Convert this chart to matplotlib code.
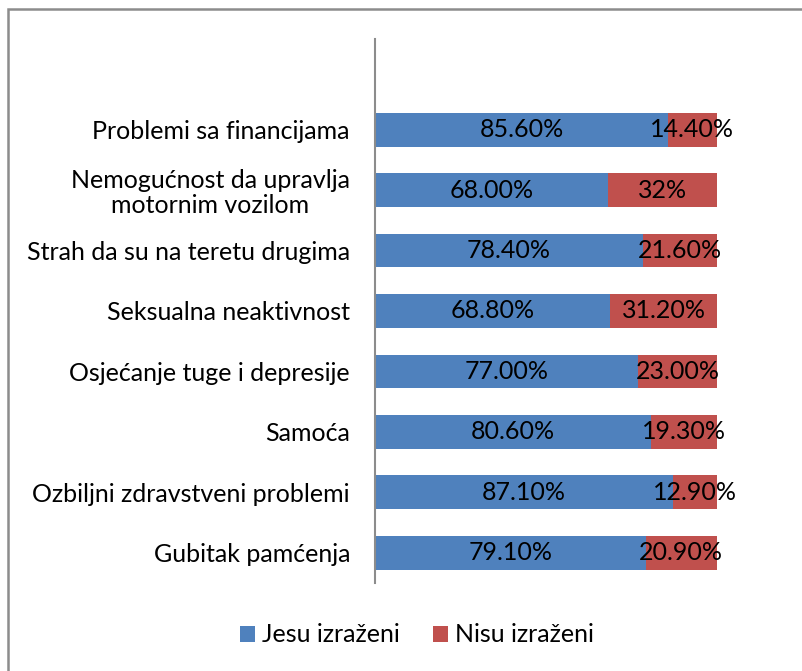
import matplotlib.pyplot as plt
from matplotlib.patches import Rectangle

plt.rcParams['font.family'] = ['Lato', 'DejaVu Sans']

# bottom to top, as drawn
categories = ["Gubitak pamćenja", "Ozbiljni zdravstveni problemi", "Samoća",
              "Osjećanje tuge i depresije", "Seksualna neaktivnost",
              "Strah da su na teretu drugima", "Nemogućnost da upravlja\nmotornim vozilom",
              "Problemi sa financijama"]
jesu = [79.1, 87.1, 80.6, 77.0, 68.8, 78.4, 68.0, 85.6]
nisu = [20.9, 12.9, 19.3, 23.0, 31.2, 21.6, 32.0, 14.4]
jesu_labels = ["79.10%", "87.10%", "80.60%", "77.00%", "68.80%", "78.40%", "68.00%", "85.60%"]
nisu_labels = ["20.90%", "12.90%", "19.30%", "23.00%", "31.20%", "21.60%", "32%", "14.40%"]

blue = "#4F81BD"
red = "#C0504D"
fs = 18

W, H = 802, 671
fig = plt.figure(figsize=(W / 100, H / 100), dpi=100)
ax = fig.add_axes([375 / W, 1 - 583 / H, (717 - 375) / W, (583 - 39) / H])

y = list(range(len(categories)))
b1 = ax.barh(y, jesu, height=0.56, color=blue, label="Jesu izraženi")
b2 = ax.barh(y, nisu, left=jesu, height=0.56, color=red, label="Nisu izraženi")

for i in y:
    ax.text(jesu[i] / 2, i, jesu_labels[i], ha='center', va='center', fontsize=fs, color='black')
    ax.text(jesu[i] + nisu[i] / 2, i, nisu_labels[i], ha='center', va='center', fontsize=fs,
            color='black', clip_on=False)

ax.set_xlim(0, 100)
ax.set_ylim(-0.5, 8.5)
ax.set_yticks(y)
ax.set_yticklabels(categories, fontsize=fs, linespacing=1.1)
for lbl in ax.get_yticklabels():
    lbl.set_multialignment('center')
ax.tick_params(axis='y', length=0, pad=18)
ax.set_xticks([])
for s in ['top', 'right', 'bottom']:
    ax.spines[s].set_visible(False)
ax.spines['left'].set_color('#8c8c8c')
ax.spines['left'].set_linewidth(1.5)

fig.legend(handles=[b1, b2], loc='center', bbox_to_anchor=(417 / W, 1 - 635 / H), ncol=2,
           frameon=False, fontsize=fs, handlelength=0.6, handleheight=0.6,
           handletextpad=0.3, columnspacing=1.3)

fig.patches.append(Rectangle((8 / W, -0.1), 1.2, 1 - 9 / H + 0.1, transform=fig.transFigure,
                             fill=False, edgecolor='#8c8c8c', linewidth=1.8))

fig.savefig("out.png", dpi=100)
